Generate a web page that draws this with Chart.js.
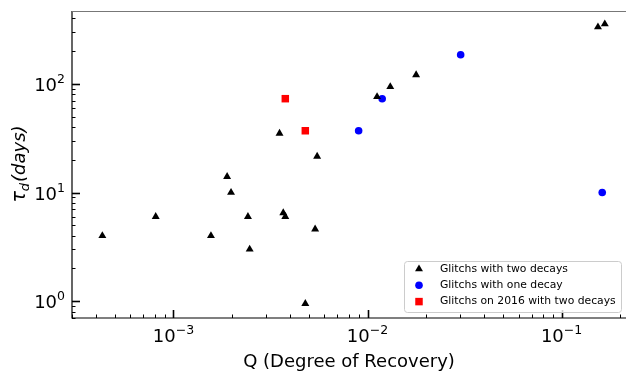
<!DOCTYPE html>
<html>
<head>
<meta charset="utf-8">
<script src="https://cdn.jsdelivr.net/npm/chart.js@4/dist/chart.umd.min.js"></script>
<style>
  html, body { margin: 0; padding: 0; background: #fff; }
  #wrap { width: 626px; height: 372px; }
</style>
</head>
<body>
<div id="wrap"><canvas id="grafico" width="626" height="372"></canvas></div>
<script>
// Glitchs with two decays
const qDuas = [4.3e-4, 8.1e-4, 1.56e-3, 1.89e-3, 1.98e-3, 2.42e-3, 2.47e-3, 3.52e-3, 3.68e-3, 3.77e-3, 4.78e-3, 5.37e-3, 5.5e-3, 1.12e-2, 1.31e-2, 1.78e-2, 0.154, 0.167];
const tauDuas = [4.0, 6.0, 4.0, 14, 10, 6.0, 3.0, 35, 6.5, 6.0, 0.95, 4.6, 21.5, 76, 94, 121, 333, 355];

// Glitchs with one decay
const qUma = [9.0e-3, 1.19e-2, 3.02e-2, 0.162];
const tauUma = [37, 73, 185, 10];

// Glitchs on 2016 with two decays
const q2016 = [3.77e-3, 4.78e-3];
const tau2016 = [73, 37];

const rotulos = ['Glitchs with two decays', 'Glitchs with one decay', 'Glitchs on 2016 with two decays'];

// ticks
const xMaiores = [1e-3, 1e-2, 1e-1];
const xExpoentes = ['\u22123', '\u22122', '\u22121'];
const yMaiores = [1, 10, 100];
const yExpoentes = ['0', '1', '2'];

const pontos = (xs, ys) => xs.map((x, i) => ({ x: x, y: ys[i] }));

const FONTE = '"DejaVu Sans", sans-serif';

// ticks para dentro, moldura, rotulos e legenda
const eixosPlugin = {
  id: 'eixosMpl',
  afterDatasetsDraw(chart) {
    const ctx = chart.ctx;
    const a = chart.chartArea;
    const sx = chart.scales.x;
    const sy = chart.scales.y;
    ctx.save();

    // moldura
    ctx.strokeStyle = '#000';
    ctx.lineWidth = 1.2;
    ctx.beginPath();
    ctx.moveTo(a.left, a.top);
    ctx.lineTo(a.left, a.bottom);
    ctx.lineTo(a.right, a.bottom);
    ctx.stroke();
    ctx.strokeStyle = '#777';
    ctx.beginPath();
    ctx.moveTo(a.left, a.top + 0.5);
    ctx.lineTo(a.right, a.top + 0.5);
    ctx.stroke();

    // ticks x
    ctx.strokeStyle = '#000';
    for (let e = -4; e <= 0; e++) {
      for (let m = 1; m <= 9; m++) {
        const v = m * Math.pow(10, e);
        if (v < sx.min || v > sx.max) continue;
        const px = Math.round(sx.getPixelForValue(v)) + 0.5;
        const len = m === 1 ? 8 : 3.5;
        ctx.lineWidth = m === 1 ? 1.6 : 1;
        ctx.beginPath();
        ctx.moveTo(px, a.bottom);
        ctx.lineTo(px, a.bottom - len);
        ctx.stroke();
      }
    }
    // ticks y
    for (let e = -1; e <= 2; e++) {
      for (let m = 1; m <= 9; m++) {
        const v = m * Math.pow(10, e);
        if (v < sy.min || v > sy.max) continue;
        const py = Math.round(sy.getPixelForValue(v)) + 0.5;
        const len = m === 1 ? 8 : 3.5;
        ctx.lineWidth = m === 1 ? 1.6 : 1;
        ctx.beginPath();
        ctx.moveTo(a.left, py);
        ctx.lineTo(a.left + len, py);
        ctx.stroke();
      }
    }

    // rotulos dos ticks
    ctx.fillStyle = '#000';
    ctx.textBaseline = 'alphabetic';
    xMaiores.forEach((v, i) => {
      const px = sx.getPixelForValue(v);
      ctx.font = '18px ' + FONTE;
      const wB = ctx.measureText('10').width;
      ctx.font = '12.5px ' + FONTE;
      const wE = ctx.measureText(xExpoentes[i]).width;
      const x0 = px - (wB + wE) / 2;
      ctx.font = '18px ' + FONTE;
      ctx.textAlign = 'left';
      ctx.fillText('10', x0, 342);
      ctx.font = '12.5px ' + FONTE;
      ctx.fillText(xExpoentes[i], x0 + wB, 334);
    });
    yMaiores.forEach((v, i) => {
      const py = sy.getPixelForValue(v);
      ctx.font = '12.5px ' + FONTE;
      const wE = ctx.measureText(yExpoentes[i]).width;
      ctx.font = '18px ' + FONTE;
      const wB = ctx.measureText('10').width;
      const xd = 65;
      ctx.textAlign = 'left';
      ctx.fillText('10', xd - wE - wB, py + 7);
      ctx.font = '12.5px ' + FONTE;
      ctx.fillText(yExpoentes[i], xd - wE, py - 1);
    });

    // titulo x
    ctx.font = '18px ' + FONTE;
    ctx.textAlign = 'center';
    ctx.fillText('Q (Degree of Recovery)', (a.left + a.right) / 2, 367);

    // titulo y
    ctx.save();
    ctx.translate(25, (a.top + a.bottom) / 2);
    ctx.rotate(-Math.PI / 2);
    const partes = [
      { t: '\u03c4', f: 'italic 19px ' + FONTE, dy: 0 },
      { t: 'd', f: 'italic 13px ' + FONTE, dy: 4 },
      { t: '(days)', f: 'italic 18px ' + FONTE, dy: 0 }
    ];
    let total = 0;
    partes.forEach(p => { ctx.font = p.f; p.w = ctx.measureText(p.t).width; total += p.w; });
    let cx = -total / 2;
    ctx.textAlign = 'left';
    partes.forEach(p => { ctx.font = p.f; ctx.fillText(p.t, cx, p.dy); cx += p.w + (p.t === 'd' ? 1 : 0); });
    ctx.restore();

    // legenda
    const lx = 404, ly = 261, lw = 217, lh = 51;
    ctx.fillStyle = 'rgba(255,255,255,0.8)';
    ctx.strokeStyle = '#cccccc';
    ctx.lineWidth = 1;
    ctx.beginPath();
    if (ctx.roundRect) ctx.roundRect(lx + 0.5, ly + 0.5, lw, lh, 3); else ctx.rect(lx + 0.5, ly + 0.5, lw, lh);
    ctx.fill();
    ctx.stroke();
    chart.data.datasets.forEach((ds, i) => {
      const yy = 269 + i * 16.3;
      ctx.fillStyle = ds.backgroundColor;
      ctx.strokeStyle = ds.backgroundColor;
      Chart.helpers.drawPoint(ctx, { pointStyle: ds.pointStyle, radius: ds.pointRadius, borderWidth: 0, rotation: 0 }, 419, yy);
      ctx.fillStyle = '#000';
      ctx.font = '10.8px ' + FONTE;
      ctx.textAlign = 'left';
      ctx.textBaseline = 'middle';
      ctx.fillText(ds.label, 440, yy);
    });

    ctx.restore();
  }
};

const ctx = document.getElementById('grafico').getContext('2d');
new Chart(ctx, {
  type: 'scatter',
  data: {
    datasets: [{
      label: rotulos[0],
      data: pontos(qDuas, tauDuas),
      pointStyle: 'triangle',
      pointRadius: 4.6,
      backgroundColor: '#000000',
      borderColor: '#000000',
      borderWidth: 0
    }, {
      label: rotulos[1],
      data: pontos(qUma, tauUma),
      pointStyle: 'circle',
      pointRadius: 3.8,
      backgroundColor: '#0000ff',
      borderColor: '#0000ff',
      borderWidth: 0
    }, {
      label: rotulos[2],
      data: pontos(q2016, tau2016),
      pointStyle: 'rect',
      pointRadius: 5.3,
      backgroundColor: '#ff0000',
      borderColor: '#ff0000',
      borderWidth: 0
    }]
  },
  options: {
    responsive: false,
    animation: false,
    devicePixelRatio: 1,
    layout: { autoPadding: false, padding: { left: 72, top: 11, right: 0, bottom: 54 } },
    plugins: {
      legend: { display: false },
      tooltip: { enabled: false }
    },
    scales: {
      x: { type: 'logarithmic', min: 3.2e-4, max: 0.2148, display: false },
      y: { type: 'logarithmic', min: 0.713, max: 468, display: false }
    }
  },
  plugins: [eixosPlugin]
});
</script>
</body>
</html>
